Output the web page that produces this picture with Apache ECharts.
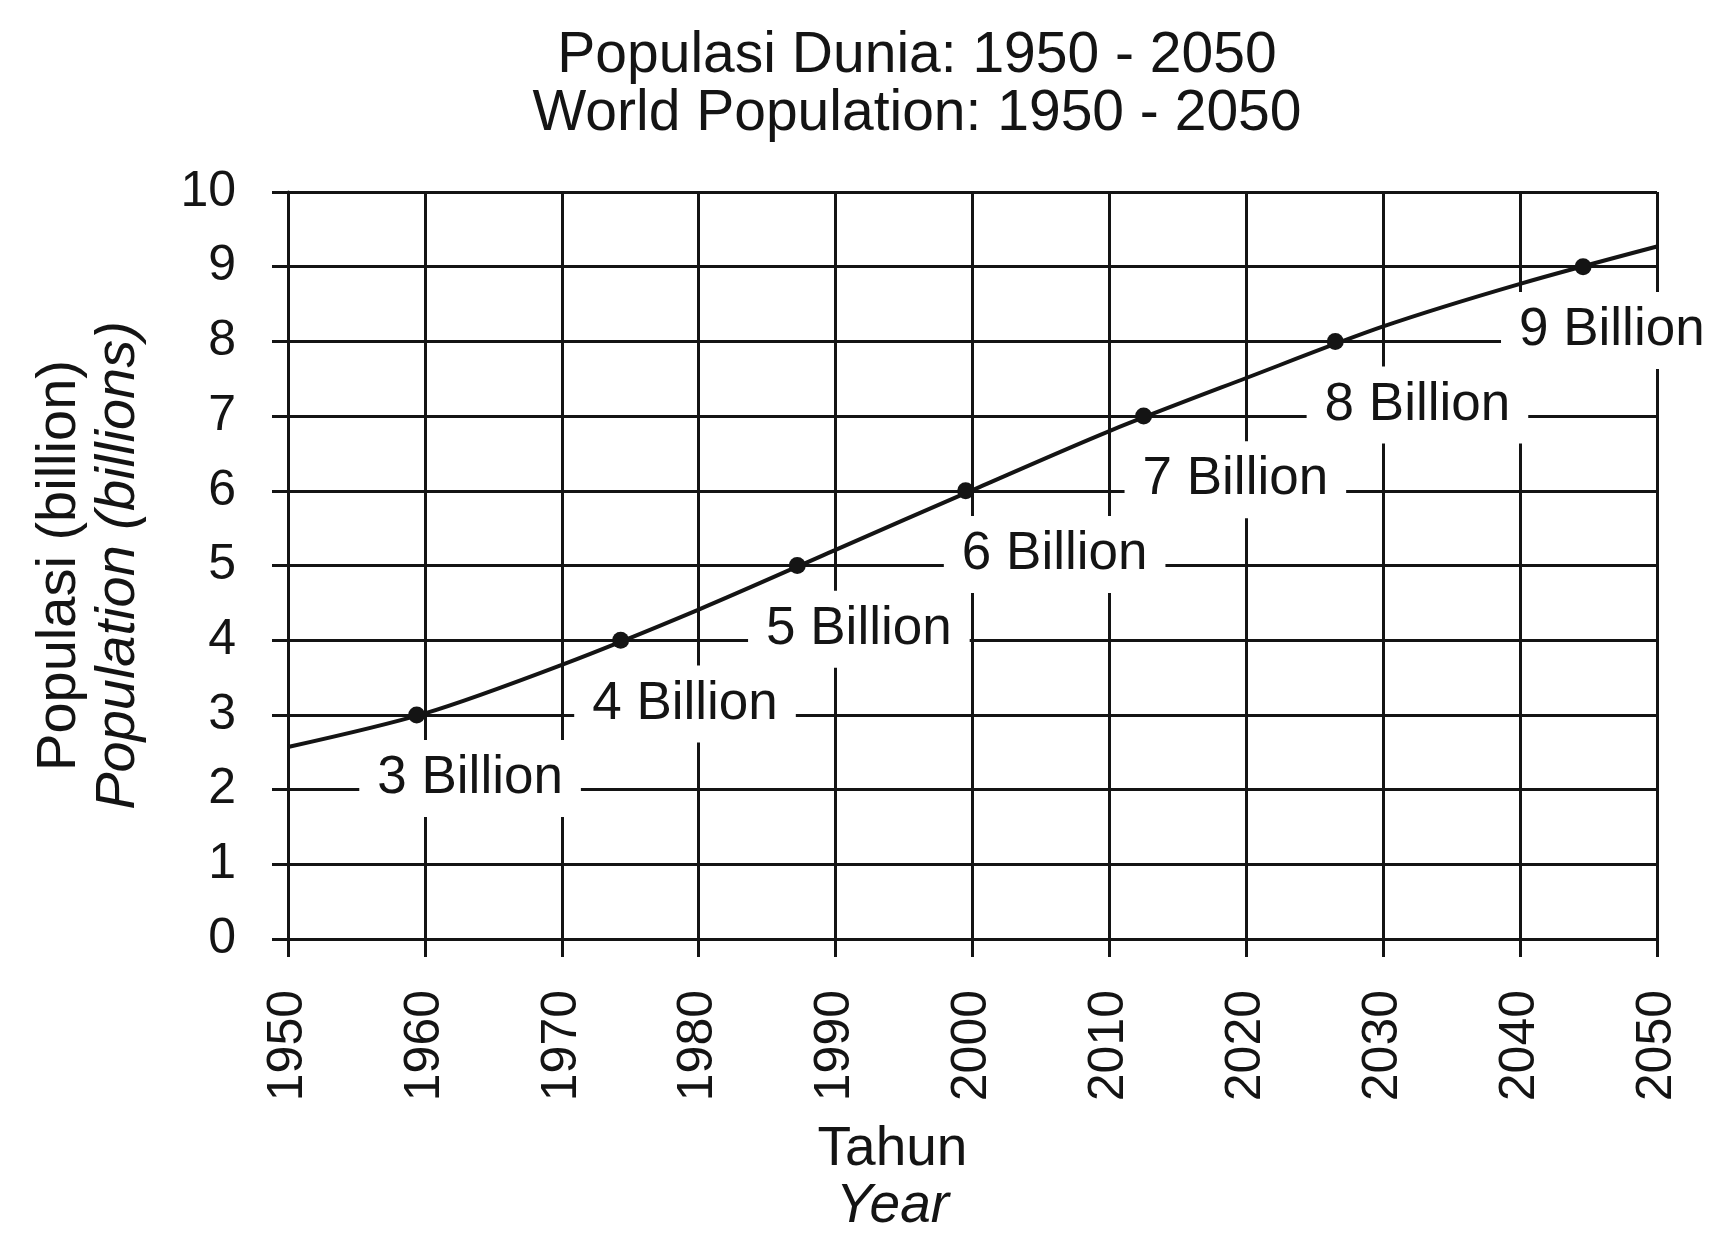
<!DOCTYPE html>
<html><head><meta charset="utf-8">
<script src="https://cdn.jsdelivr.net/npm/echarts@6/dist/echarts.min.js"></script>
<style>html,body{margin:0;padding:0;background:#fff}#c{width:1710px;height:1240px}</style>
</head><body><div id="c"></div>
<script>
// ---- data ----
const titleLines = ['Populasi Dunia: 1950 - 2050', 'World Population: 1950 - 2050'];
const yNameLines = ['Populasi (billion)', 'Population (billions)'];
const xNameLines = ['Tahun', 'Year'];
const xTicks = [1950, 1960, 1970, 1980, 1990, 2000, 2010, 2020, 2030, 2040, 2050];
const yTicks = [0, 1, 2, 3, 4, 5, 6, 7, 8, 9, 10];
// population (billions) at each decade gridline
const curveYears = [1950, 1960, 1970, 1980, 1990, 2000, 2010, 2020, 2030, 2040, 2050];
const curveValues = [2.57, 3.02, 3.67, 4.41, 5.21, 6.01, 6.80, 7.51, 8.20, 8.77, 9.27];
// milestone dots
const milestoneYears = [1959.4, 1974.3, 1987.2, 1999.5, 2012.5, 2026.5, 2044.6];
const milestoneValues = [3, 4, 5, 6, 7, 8, 9];
// milestone captions (centre year, gridline they sit on)
const labelTexts = ['3 Billion', '4 Billion', '5 Billion', '6 Billion', '7 Billion', '8 Billion', '9 Billion'];
const labelYears = [1963.3, 1979.0, 1991.7, 2006.0, 2019.2, 2032.5, 2046.7];
const labelLevels = [2, 3, 4, 5, 6, 7, 8];

// ---- chart ----
const FONT = '"Liberation Sans", Arial, Helvetica, sans-serif';
const INK = '#141414';
const curveData = curveYears.map((y, i) => [y, curveValues[i]]);
const dotData = milestoneYears.map((y, i) => [y, milestoneValues[i]]);
const labelData = labelYears.map((y, i) => [y, labelLevels[i]]);

const chart = echarts.init(document.getElementById('c'), null, {renderer: 'canvas'});
chart.setOption({
  backgroundColor: '#fff',
  animation: false,
  title: {
    text: titleLines.join('\n'),
    left: 912, top: 22, textAlign: 'center',
    textStyle: {fontFamily: FONT, fontSize: 57, fontWeight: 'normal', color: INK, lineHeight: 58}
  },
  grid: {left: 288, right: 53, top: 192, bottom: 293, containLabel: false},
  xAxis: {
    type: 'value', min: xTicks[0], max: xTicks[xTicks.length - 1], interval: 10,
    name: '{a|' + xNameLines[0] + '}\n{b|' + xNameLines[1] + '}',
    nameLocation: 'middle', nameGap: 182,
    nameTextStyle: {
      fontFamily: FONT, fontSize: 55, color: INK, lineHeight: 57, padding: [0, 160, 0, 0],
      rich: {a: {fontFamily: FONT, fontSize: 55, color: INK, lineHeight: 57},
             b: {fontFamily: FONT, fontSize: 55, color: INK, lineHeight: 57, fontStyle: 'italic'}}
    },
    axisLine: {show: true, lineStyle: {color: INK, width: 3}},
    axisTick: {show: true, length: 18, lineStyle: {color: INK, width: 3}},
    axisLabel: {rotate: 90, margin: 51, fontFamily: FONT, fontSize: 50, color: INK, formatter: v => String(v)},
    splitLine: {show: true, lineStyle: {color: INK, width: 3}}
  },
  yAxis: {
    type: 'value', min: yTicks[0], max: yTicks[yTicks.length - 1], interval: 1,
    name: '{a|' + yNameLines[0] + '}\n{b|' + yNameLines[1] + '}',
    nameLocation: 'middle', nameRotate: 90, nameGap: 141,
    nameTextStyle: {
      fontFamily: FONT, fontSize: 56, color: INK, lineHeight: 58,
      rich: {a: {fontFamily: FONT, fontSize: 56, color: INK, lineHeight: 58},
             b: {fontFamily: FONT, fontSize: 56, color: INK, lineHeight: 58, fontStyle: 'italic'}}
    },
    axisLine: {show: true, lineStyle: {color: INK, width: 3}},
    axisTick: {show: true, length: 16, lineStyle: {color: INK, width: 3}},
    axisLabel: {margin: 52, fontFamily: FONT, fontSize: 50, color: INK},
    splitLine: {show: true, lineStyle: {color: INK, width: 3}}
  },
  series: [
    {
      type: 'scatter', z: 2, data: labelData, symbolSize: 0, silent: true,
      itemStyle: {opacity: 1}, emphasis: {disabled: true},
      label: {
        show: true, position: 'inside', offset: [0, -11],
        formatter: p => labelTexts[p.dataIndex],
        fontFamily: FONT, fontSize: 53, color: INK, lineHeight: 53,
        backgroundColor: '#fff', padding: [13, 18, 11, 18]
      }
    },
    {
      type: 'line', z: 3, data: curveData, smooth: 0.3,
      showSymbol: false, lineStyle: {color: INK, width: 4}, clip: false, silent: true
    },
    {
      type: 'scatter', z: 4, data: dotData, symbol: 'circle', symbolSize: 17,
      itemStyle: {color: INK, opacity: 1}, silent: true
    }
  ]
});
</script></body></html>
